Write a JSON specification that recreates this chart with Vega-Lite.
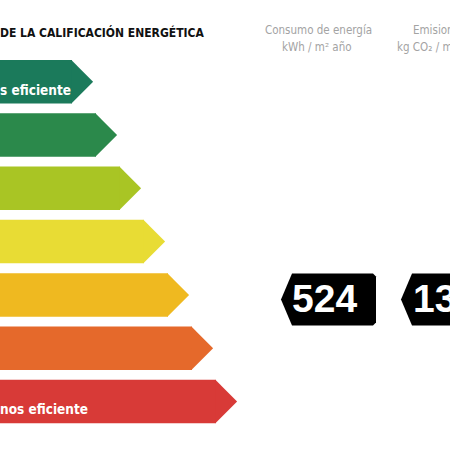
{
  "$schema": "https://vega.github.io/schema/vega-lite/v6.json",
  "width": 450,
  "height": 450,
  "autosize": {"type": "none"},
  "padding": 0,
  "background": "white",
  "config": {"view": {"stroke": null}, "axis": {"disable": true}},
  "datasets": {
    "clases": [
      {"clase": "A", "nivel": 1, "limite": 72, "etiqueta": "s eficiente"},
      {"clase": "B", "nivel": 2, "limite": 96, "etiqueta": ""},
      {"clase": "C", "nivel": 3, "limite": 120, "etiqueta": ""},
      {"clase": "D", "nivel": 4, "limite": 144, "etiqueta": ""},
      {"clase": "E", "nivel": 5, "limite": 168, "etiqueta": ""},
      {"clase": "F", "nivel": 6, "limite": 192, "etiqueta": ""},
      {"clase": "G", "nivel": 7, "limite": 216, "etiqueta": "nos eficiente"}
    ],
    "indicadores": [
      {"indicador": "Consumo de energía", "valor": "524", "nivel": 5, "centro": 326, "inicio": 292},
      {"indicador": "Emisiones", "valor": "13", "nivel": 5, "centro": 446, "inicio": 413}
    ],
    "cabeceras": [
      {"texto": "Consumo de energía", "nivel": 0, "inicio": 265},
      {"texto": "kWh / m² año", "nivel": 0.321, "inicio": 282},
      {"texto": "Emision", "nivel": 0, "inicio": 413},
      {"texto": "kg CO₂ / m", "nivel": 0.321, "inicio": 397}
    ],
    "titulo": [{"texto": "DE LA CALIFICACIÓN ENERGÉTICA", "nivel": 0, "inicio": 0}]
  },
  "layer": [
    {
      "data": {"name": "clases"},
      "mark": {"type": "bar", "height": 43.5},
      "encoding": {
        "x": {"field": "limite", "type": "quantitative", "scale": {"domain": [0, 450], "nice": false, "zero": false}},
        "x2": {"datum": -20},
        "y": {"field": "nivel", "type": "quantitative", "scale": {"domain": [-0.4404, 7.8165], "reverse": true, "nice": false, "zero": false}},
        "color": {"field": "clase", "type": "nominal", "legend": null,
          "scale": {"domain": ["A", "B", "C", "D", "E", "F", "G"], "range": ["#1b7a5b", "#2b894b", "#a9c524", "#e8dc34", "#efb920", "#e5692b", "#d83a37"]}}
      }
    },
    {
      "data": {"name": "clases"},
      "mark": {"type": "point", "shape": "M-0.03,-1L0.97,0L-0.03,1Z", "size": 1892, "filled": true, "opacity": 1, "strokeWidth": 0},
      "encoding": {
        "x": {"field": "limite", "type": "quantitative"},
        "y": {"field": "nivel", "type": "quantitative"},
        "color": {"field": "clase", "type": "nominal", "legend": null}
      }
    },
    {
      "data": {"name": "clases"},
      "mark": {"type": "text", "align": "left", "baseline": "middle", "yOffset": 9, "color": "white", "font": "DejaVu Sans Condensed, sans-serif", "fontWeight": "bold", "fontSize": 13.5},
      "encoding": {
        "x": {"datum": 0, "type": "quantitative"},
        "y": {"field": "nivel", "type": "quantitative"},
        "text": {"field": "etiqueta"}
      }
    },
    {
      "data": {"name": "indicadores"},
      "mark": {"type": "point", "shape": "M-0.9,0L-0.68,-0.52L0.94,-0.52L1,-0.46L1,0.46L0.94,0.52L-0.68,0.52Z", "size": 10000, "filled": true, "opacity": 1, "strokeWidth": 0, "color": "black", "yOffset": 4.5},
      "encoding": {
        "x": {"field": "centro", "type": "quantitative"},
        "y": {"field": "nivel", "type": "quantitative"}
      }
    },
    {
      "data": {"name": "indicadores"},
      "mark": {"type": "text", "align": "left", "baseline": "middle", "yOffset": 5.5, "color": "white", "font": "Liberation Sans, Arial, sans-serif", "fontWeight": "bold", "fontSize": 39},
      "encoding": {
        "x": {"field": "inicio", "type": "quantitative"},
        "y": {"field": "nivel", "type": "quantitative"},
        "text": {"field": "valor"}
      }
    },
    {
      "data": {"name": "cabeceras"},
      "mark": {"type": "text", "align": "left", "baseline": "alphabetic", "dy": 5.5, "color": "#a3a3a3", "font": "DejaVu Sans Condensed, sans-serif", "fontSize": 11.5},
      "encoding": {
        "x": {"field": "inicio", "type": "quantitative"},
        "y": {"field": "nivel", "type": "quantitative"},
        "text": {"field": "texto"}
      }
    },
    {
      "data": {"name": "titulo"},
      "mark": {"type": "text", "align": "left", "baseline": "alphabetic", "dy": 9, "color": "#111111", "font": "DejaVu Sans Condensed, sans-serif", "fontWeight": "bold", "fontSize": 12},
      "encoding": {
        "x": {"field": "inicio", "type": "quantitative"},
        "y": {"field": "nivel", "type": "quantitative"},
        "text": {"field": "texto"}
      }
    }
  ]
}
